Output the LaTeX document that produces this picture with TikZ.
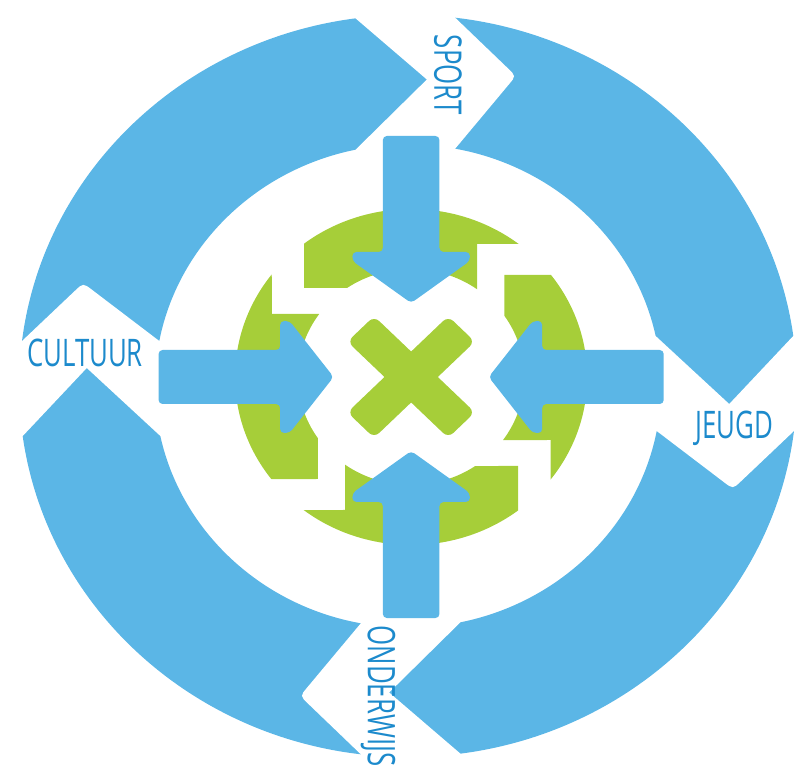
\documentclass[tikz,border=0pt]{standalone}
\usepackage{fontspec}
\newfontfamily\labelfont[FakeStretch=0.68]{Open Sans}
\definecolor{ringblue}{RGB}{91,182,230}
\definecolor{leafgreen}{RGB}{166,206,57}
\definecolor{labelblue}{RGB}{28,138,204}

\begin{document}
\begin{tikzpicture}[x=1pt,y=1pt]
\tikzstyle{every node}+=[inner sep=0pt]
\tikzstyle{topic}=[font=\labelfont\fontsize{38}{38}\selectfont, text=labelblue]
\useasboundingbox (-408pt,-392pt) rectangle (400pt,386pt);
\begin{scope}[xscale=1.048]
% outer ring
\fill [ringblue, even odd rule] (0,0) circle (371) (0,0) circle (241.5);
\fill [white] (-50,395) -- (-50,367.6) -- (18,306.5) -- (-50,236.3) -- (-50,215) -- (45,215) -- (45,237.3) -- (96.1,301.4) .. controls (103,310) .. (95.2,317.8) -- (45,368.3) -- (45,395) -- cycle;
\fill [white, rotate=-90] (-50,395) -- (-50,367.6) -- (18,306.5) -- (-50,236.3) -- (-50,215) -- (45,215) -- (45,237.3) -- (96.1,301.4) .. controls (103,310) .. (95.2,317.8) -- (45,368.3) -- (45,395) -- cycle;
\fill [white, rotate=180] (-50,395) -- (-50,367.6) -- (18,306.5) -- (-50,236.3) -- (-50,215) -- (45,215) -- (45,237.3) -- (96.1,301.4) .. controls (103,310) .. (95.2,317.8) -- (45,368.3) -- (45,395) -- cycle;
\fill [white, rotate=90] (-50,395) -- (-50,367.6) -- (18,306.5) -- (-50,236.3) -- (-50,215) -- (45,215) -- (45,237.3) -- (96.1,301.4) .. controls (103,310) .. (95.2,317.8) -- (45,368.3) -- (45,395) -- cycle;
\begin{scope}[shift={(3,9)}]
% green ring
\fill [leafgreen] (127.4:168) -- (-102,89) -- (124.5:108) arc [start angle=124.5, end angle=54.3, radius=108] -- (63,133) -- (52.35:168) arc [start angle=52.35, end angle=127.4, radius=168] -- cycle;
\fill [leafgreen, rotate=-90] (127.4:168) -- (-102,89) -- (124.5:108) arc [start angle=124.5, end angle=54.3, radius=108] -- (63,133) -- (52.35:168) arc [start angle=52.35, end angle=127.4, radius=168] -- cycle;
\fill [leafgreen, rotate=180] (127.4:168) -- (-102,89) -- (124.5:108) arc [start angle=124.5, end angle=54.3, radius=108] -- (63,133) -- (52.35:168) arc [start angle=52.35, end angle=127.4, radius=168] -- cycle;
\fill [leafgreen, rotate=90] (127.4:168) -- (-102,89) -- (124.5:108) arc [start angle=124.5, end angle=54.3, radius=108] -- (63,133) -- (52.35:168) arc [start angle=52.35, end angle=127.4, radius=168] -- cycle;
% cross
\fill [leafgreen, rounded corners=7, rotate=45] (-68,-18) rectangle (68,18);
\fill [leafgreen, rounded corners=7, rotate=-45] (-68,-18) rectangle (68,18);
% arrows
\fill [ringblue, rounded corners=4] (-27,241) -- (27,241) -- (27,125) -- (56,125) -- (56,116) -- (0,74) -- (-56,116) -- (-56,125) -- (-27,125) -- cycle;
\fill [ringblue, rounded corners=4, rotate=-90] (-27,241) -- (27,241) -- (27,125) -- (56,125) -- (56,116) -- (0,74) -- (-56,116) -- (-56,125) -- (-27,125) -- cycle;
\fill [ringblue, rounded corners=4, rotate=180] (-27,241) -- (27,241) -- (27,125) -- (56,125) -- (56,116) -- (0,74) -- (-56,116) -- (-56,125) -- (-27,125) -- cycle;
\fill [ringblue, rounded corners=4, rotate=90] (-27,241) -- (27,241) -- (27,125) -- (56,125) -- (56,116) -- (0,74) -- (-56,116) -- (-56,125) -- (-27,125) -- cycle;
\end{scope}
\end{scope}
% labels
\node [topic, rotate=-90] (sport) at (40,311) {SPORT};
\node [topic] (jeugd) at (326,-42) {JEUGD};
\node [topic, rotate=-90] (onderwijs) at (-30,-310) {ONDERWIJS};
\node [topic] (cultuur) at (-323,33) {CULTUUR};
\end{tikzpicture}
\end{document}
